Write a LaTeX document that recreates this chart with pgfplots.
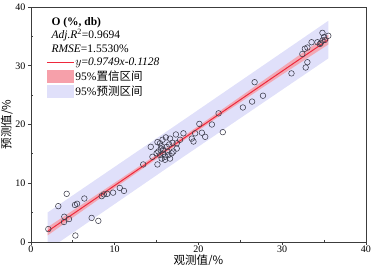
\documentclass[border=0pt]{standalone}
\usepackage{pgfplots}
\pgfplotsset{compat=1.18}
\usepackage{fontspec}
\setmainfont{Liberation Serif}
\newfontfamily\cjk{Noto Sans CJK SC}
\definecolor{predc}{RGB}{224,224,250}
\definecolor{confc}{RGB}{246,160,170}
\definecolor{linec}{RGB}{238,40,60}
\definecolor{markc}{RGB}{60,60,75}
\definecolor{axc}{RGB}{60,60,60}
\begin{document}
\begin{tikzpicture}
\begin{axis}[
  scale only axis, width=335pt, height=235pt,
  xmin=0, xmax=40, ymin=0, ymax=40,
  xtick={0,10,20,30,40}, ytick={0,10,20,30,40},
  minor x tick num=1, minor y tick num=1,
  xtick pos=bottom, ytick pos=left,
  tick align=outside, major tick length=3pt, minor tick length=-2pt,
  axis line style={axc, line width=0.9pt},
  tick style={axc, line width=0.8pt},
  /pgf/number format/assume math mode=true,
  tick label style={font=\fontsize{10}{12}\selectfont, black},
  xticklabel style={yshift=2.5pt},
  yticklabel style={xshift=1pt},
  xlabel={\cjk 观测值/\%}, ylabel={\cjk 预测值/\%},
  label style={font=\fontsize{11.5}{13}\selectfont},
  xlabel style={yshift=5pt},
  ylabel style={yshift=-4pt},
  legend style={draw=none, fill=none, at={(axis description cs:0.045,0.791)}, anchor=north west,
    font=\fontsize{11.5}{13}\selectfont, row sep=1.5pt, inner sep=0pt,
    nodes={inner sep=1.2pt}},
  legend cell align=left,
]
% prediction band
\addplot[fill=predc, draw=none, forget plot] coordinates {
 (2,5.04) (18,20.56) (35.5,37.65) (35.5,31.25) (18,14.31) (2,-1.36)
} -- cycle;
% confidence band
\addplot[fill=confc, fill opacity=0.85, draw=none, forget plot] coordinates {
 (2,2.537) (6,6.307) (10,10.093) (14,13.916) (18,17.797) (22,21.745) (26,25.745) (30,29.769) (35.5,35.276)
 (35.5,33.616) (30,28.499) (26,24.725) (22,20.925) (18,17.073) (14,13.156) (10,9.179) (6,5.167) (2,1.137)
} -- cycle;
% fit line
\addplot[linec, line width=1pt, forget plot] coordinates {(2,1.837) (35.5,34.446)};
% observations
\addplot[only marks, mark=o, mark size=2.8pt, mark options={markc, line width=0.55pt}, forget plot] coordinates {
 (2.07,2.2) (3.26,6.1) (4.26,8.2) (3.98,4.3) (3.94,3.4) (4.54,3.9) (5.25,6.3) (5.5,6.5) (5.3,1.1)
 (6.37,7.4) (7.24,4.1) (8.04,3.6) (8.44,7.8) (8.7,8.1) (9.1,8.2) (9.8,8.4) (10.6,9.2) (11.1,8.7)
 (13.4,13.2) (14.3,16.2) (15.1,13.2) (14.5,14.5)
 (15.1,17.0) (15.4,16.8) (15.7,17.4) (16.1,17.8) (16.6,17.6) (17.3,18.3) (18.2,18.5)
 (15.5,15.9) (15.8,15.7) (16.2,16.2) (16.5,16.6) (16.9,16.9) (17.4,16.8) (17.8,17.4)
 (15.0,15.1) (15.4,14.8) (15.6,14.2) (16.0,14.5) (16.4,14.8) (16.8,15.1) (16.0,14.0)
 (16.6,14.2) (17.0,15.4) (17.4,15.9) (15.2,15.4) (15.8,15.0) (16.3,15.4) (15.6,16.3)
 (19.2,17.6) (19.4,17.1) (20.1,20.1) (20.4,18.6) (20.8,17.9) (21.6,20.0) (22.4,21.9) (22.9,18.7) (19.6,18.5)
 (25.3,22.9) (26.4,23.9) (26.7,27.2) (27.7,24.9) (31.1,28.7) (32.8,29.7) (33.0,30.6)
 (32.4,32.0) (32.7,32.9) (33.0,33.1) (33.5,34.0) (34.2,34.0) (34.5,33.7) (34.8,34.3)
 (35.0,34.9) (35.5,35.1) (34.8,35.6) (34.6,33.9) (35.1,34.4)
};
\addlegendimage{legend image code/.code={\draw[linec, line width=1pt] (0pt,0pt) -- (27pt,0pt);}}
\addlegendentry{$y$=\textit{0.9749x-0.1128}}
\addlegendimage{legend image code/.code={\fill[confc] (0pt,-6pt) rectangle (26pt,6pt);}}
\addlegendentry{95\%{\cjk 置信区间}}
\addlegendimage{legend image code/.code={\fill[predc] (0pt,-6pt) rectangle (26pt,6pt);}}
\addlegendentry{95\%{\cjk 预测区间}}
\end{axis}
\node[anchor=base west, font=\fontsize{11.5}{13}\selectfont\bfseries] at (17pt,216pt) {O (\%, db)};
\node[anchor=base west, font=\fontsize{11.5}{13}\selectfont] at (17pt,203pt) {\textit{Adj.R}\textsuperscript{2}=0.9694};
\node[anchor=base west, font=\fontsize{11.5}{13}\selectfont] at (17pt,189pt) {\textit{RMSE}=1.5530\%};
\pgfresetboundingbox
\path (-31pt,-23pt) rectangle (342pt,242pt);
\end{tikzpicture}
\end{document}
